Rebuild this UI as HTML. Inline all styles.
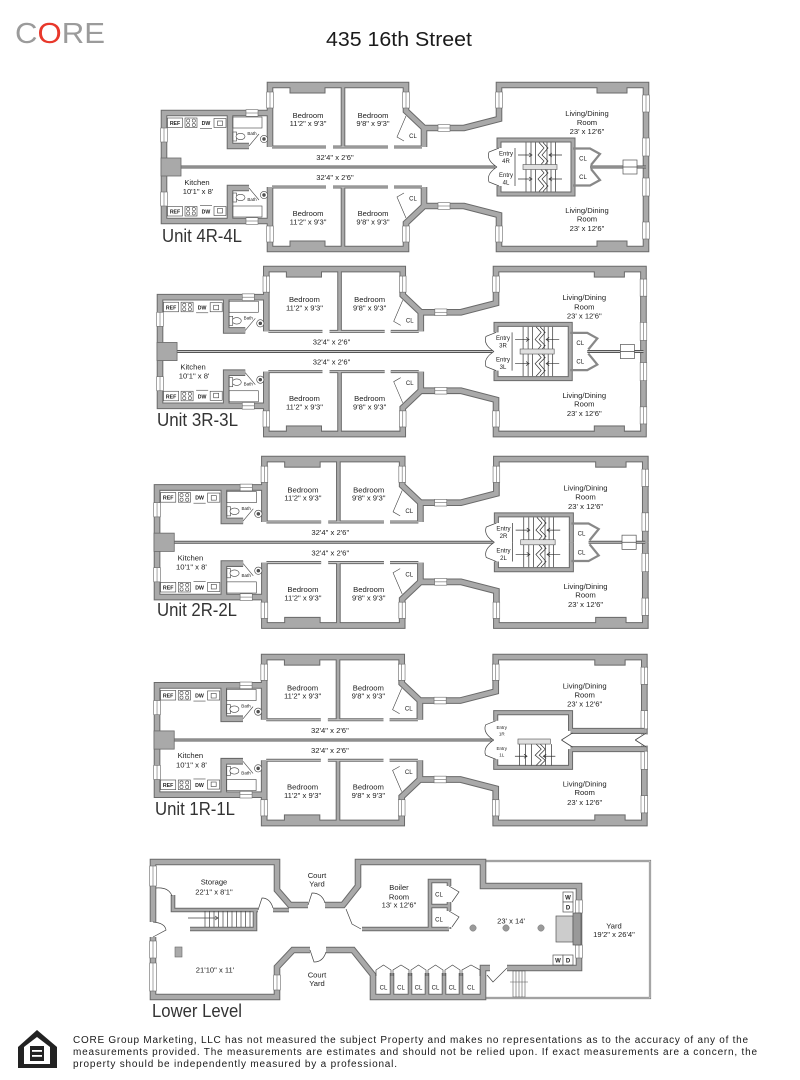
<!DOCTYPE html>
<html><head><meta charset="utf-8"><title>435 16th Street</title>
<style>
html,body{margin:0;padding:0;background:#fff;width:800px;height:1080px;overflow:hidden}
svg{display:block;font-family:"Liberation Sans",Arial,sans-serif}
.l{font-size:7.6px;text-anchor:middle;fill:#222}
.s{font-size:6px;text-anchor:middle;fill:#222}
.xs{font-size:5.2px;text-anchor:middle;font-weight:bold;fill:#222}
.b{font-size:4.5px;text-anchor:middle;fill:#222}
.u{font-size:18px;fill:#333}
</style></head><body>
<svg width="800" height="1080" viewBox="0 0 800 1080" xmlns="http://www.w3.org/2000/svg">
<defs>
 <g id="uW">
  <path d="M270,147L270,85L406,85L406,111L424,128L464,128L499,119L499,85L646,85L646,167"/>
  <path d="M164,167L164,113L270,113"/>
  <path d="M230,113L230,146L249,146"/>
  <path d="M424,128L424,147"/>
 </g>
 <g id="uM"><path d="M343,87L343,147"/></g>
 <g id="uT"><path d="M272,147L326,147M333,147L388,147M394,147L422,147"/></g>
 <g id="uB"><rect x="290" y="86" width="35" height="7"/><rect x="597" y="86" width="30" height="7"/></g>
 <g id="half">
  <use href="#uW" fill="none" stroke="#6a6a6a" stroke-width="6.6"/>
  <use href="#uM" fill="none" stroke="#6a6a6a" stroke-width="4.6"/>
  <use href="#uT" fill="none" stroke="#6a6a6a" stroke-width="3"/>
  <use href="#uB" fill="#a9a9a9" stroke="#6a6a6a" stroke-width="1"/>
  <use href="#uW" fill="none" stroke="#a9a9a9" stroke-width="4.6"/>
  <use href="#uM" fill="none" stroke="#a9a9a9" stroke-width="2.6"/>
  <use href="#uT" fill="none" stroke="#c8c8c8" stroke-width="1.1"/>
  <g fill="#fff" stroke="#6a6a6a" stroke-width="0.6">
   <rect x="160.7" y="128" width="6.6" height="14"/><path d="M164,128V142"/>
   <rect x="266.7" y="92" width="6.6" height="16"/><path d="M270,92V108"/>
   <rect x="402.7" y="92" width="6.6" height="16"/><path d="M406,92V108"/>
   <rect x="495.7" y="92" width="6.6" height="16"/><path d="M499,92V108"/>
   <rect x="642.7" y="95" width="6.6" height="17"/><path d="M646,95V112"/>
   <rect x="642.7" y="138" width="6.6" height="18"/><path d="M646,138V156"/>
   <rect x="246" y="109.7" width="12" height="6.6"/><path d="M246,113H258"/>
   <rect x="438" y="124.7" width="12" height="6.6"/><path d="M438,128H450"/>
  </g>
  <g fill="#fff" stroke="#444" stroke-width="0.6">
   <rect x="167.5" y="118" width="15" height="9.5"/>
   <rect x="185" y="118" width="12" height="9.5"/>
   <circle cx="188.2" cy="120.6" r="1.6"/><circle cx="193.8" cy="120.6" r="1.6"/>
   <circle cx="188.2" cy="125" r="1.6"/><circle cx="193.8" cy="125" r="1.6"/>
   <rect x="214" y="118.5" width="12" height="9"/><rect x="217.5" y="121" width="5" height="4.5"/>
   <path d="M200,128.5H212" fill="none"/>
   <rect x="233" y="117" width="29" height="11"/>
   <rect x="233" y="132" width="3.5" height="9"/><ellipse cx="240.5" cy="136.5" rx="4.5" ry="3.2"/>
   <circle cx="264" cy="139" r="3.6"/><circle cx="264" cy="139" r="1.4" fill="#555"/>
   <path d="M249,146L259,134" fill="none"/>
   <path d="M406,116L397,137L404,141" fill="none"/>
  </g>
 </g>
 <g id="sA">
  <path d="M499,148L499,140L573,140L573,167" fill="none" stroke="#6a6a6a" stroke-width="5"/>
  <path d="M499,148L499,140L573,140L573,167" fill="none" stroke="#a9a9a9" stroke-width="3"/>
  <path d="M499,148L489,152Q486,160 497,167" fill="#fff" stroke="#444" stroke-width="0.7"/>
  <path d="M515,148V167M526,142.5V167M531,142.5V167M535.5,142.5V167M547,142.5V167M551,142.5V167M555.5,142.5V167" stroke="#333" stroke-width="0.7"/>
  <path d="M539,142.5L544,148L538,155L544,161L539,167M543,142.5L548,148L542,155L548,161L543,167" fill="none" stroke="#333" stroke-width="0.7"/>
  <path d="M518,155H532M529,153L532,155L529,157M562,155H549M552,153L549,155L552,157" fill="none" stroke="#333" stroke-width="0.7"/>
  <path d="M573,148.5H590L600,154L591,165" fill="none" stroke="#888" stroke-width="2.2"/>
 </g>
 <g id="sB">
  <path d="M499,148L499,140L573,140L573,158" fill="none" stroke="#6a6a6a" stroke-width="5"/>
  <path d="M573,158H646" fill="none" stroke="#6a6a6a" stroke-width="6"/>
  <path d="M499,148L499,140L573,140L573,158" fill="none" stroke="#a9a9a9" stroke-width="3"/>
  <path d="M573,158H646" fill="none" stroke="#a9a9a9" stroke-width="4"/>
  <path d="M499,148L489,152Q486,160 497,167" fill="#fff" stroke="#444" stroke-width="0.7"/>
  <path d="M575,160L564,167M648,160L637,167" stroke="#444" stroke-width="0.8"/>
 </g>
 <g id="LW">
  <path d="M153,922V862H277V890L290,905H308"/>
  <path d="M325,905H343L358,886V862H483V886H579V968H507"/>
  <path d="M153,937V997H277V967L293,950H310"/>
  <path d="M326,950H353L373,975V997H483V968H490"/>
 </g>
 <g id="LM">
  <path d="M173,895V910H258"/>
  <path d="M273,910H289"/>
  <path d="M255,910V929H190"/>
  <path d="M362,929H449"/>
  <path d="M430,929V881H449V886"/>
  <path d="M430,906H449"/>
  <path d="M449,902V911M449,927V929"/>
  <path d="M392,973V997M410,973V997M427,973V997M444,973V997M461,973V997"/>
 </g>
</defs>

<!-- Header -->
<text x="15" y="43" font-size="29" textLength="90" lengthAdjust="spacingAndGlyphs" fill="#9b9b9b">C<tspan fill="#e8382b">O</tspan>RE</text>
<text x="326" y="46" font-size="20" textLength="146" lengthAdjust="spacingAndGlyphs" fill="#1a1a1a">435 16th Street</text>

<!-- UNIT 4 -->
<g>
 <use href="#half"/>
 <use href="#half" transform="translate(0,334) scale(1,-1)"/>
 <path d="M181,167H497M590,167H646" stroke="#555" stroke-width="3"/>
 <path d="M181,167H497M590,167H646" stroke="#c8c8c8" stroke-width="1"/>
 <rect x="161" y="158" width="20" height="18" fill="#a9a9a9" stroke="#6a6a6a" stroke-width="0.8"/>
 <use href="#sA"/><use href="#sA" transform="translate(0,334) scale(1,-1)"/>
 <rect x="623" y="160" width="14" height="14" fill="#fff" stroke="#555" stroke-width="0.7"/>
 <path d="M623,167H637" stroke="#555" stroke-width="0.8"/>
 <rect x="523" y="164.5" width="34" height="5" fill="#e0e0e0" stroke="#555" stroke-width="0.6"/>
 <text class="l" x="308" y="118">Bedroom</text><text class="l" x="308" y="126">11'2" x 9'3"</text>
 <text class="l" x="373" y="118">Bedroom</text><text class="l" x="373" y="126">9'8" x 9'3"</text>
 <text class="l" x="308" y="216">Bedroom</text><text class="l" x="308" y="224.5">11'2" x 9'3"</text>
 <text class="l" x="373" y="216">Bedroom</text><text class="l" x="373" y="224.5">9'8" x 9'3"</text>
 <text class="l" x="335" y="160">32'4" x 2'6"</text><text class="l" x="335" y="180">32'4" x 2'6"</text>
 <text class="l" x="197" y="185">Kitchen</text><text class="l" x="198" y="194">10'1" x 8'</text>
 <text class="s" x="413" y="138">CL</text><text class="s" x="413" y="200.5">CL</text>
 <text class="l" x="587" y="116">Living/Dining</text><text class="l" x="587" y="125">Room</text><text class="l" x="587" y="134">23' x 12'6"</text>
 <text class="l" x="587" y="213">Living/Dining</text><text class="l" x="587" y="221.5">Room</text><text class="l" x="587" y="231">23' x 12'6"</text>
 <text class="xs" x="175" y="125">REF</text><text class="xs" x="206" y="125">DW</text>
 <text class="xs" x="175" y="213.5">REF</text><text class="xs" x="206" y="213.5">DW</text>
 <text class="b" x="252" y="135">Bath</text><text class="b" x="252" y="201">Bath</text>
 <text class="s" x="506" y="155.5">Entry</text><text class="s" x="506" y="163">4R</text>
 <text class="s" x="506" y="177">Entry</text><text class="s" x="506" y="184.5">4L</text>
 <text class="s" x="583" y="160.5">CL</text><text class="s" x="583" y="179">CL</text>
</g>
<text class="u" x="162" y="242" textLength="80" lengthAdjust="spacingAndGlyphs">Unit 4R-4L</text>

<!-- UNIT 3 -->
<g transform="translate(157,266) scale(1.003,1.006) translate(-161,-82)">
 <use href="#half"/>
 <use href="#half" transform="translate(0,334) scale(1,-1)"/>
 <path d="M181,167H497M590,167H646" stroke="#555" stroke-width="3"/>
 <path d="M181,167H497M590,167H646" stroke="#c8c8c8" stroke-width="1"/>
 <rect x="161" y="158" width="20" height="18" fill="#a9a9a9" stroke="#6a6a6a" stroke-width="0.8"/>
 <use href="#sA"/><use href="#sA" transform="translate(0,334) scale(1,-1)"/>
 <rect x="623" y="160" width="14" height="14" fill="#fff" stroke="#555" stroke-width="0.7"/>
 <path d="M623,167H637" stroke="#555" stroke-width="0.8"/>
 <rect x="523" y="164.5" width="34" height="5" fill="#e0e0e0" stroke="#555" stroke-width="0.6"/>
 <text class="l" x="308" y="118">Bedroom</text><text class="l" x="308" y="126">11'2" x 9'3"</text>
 <text class="l" x="373" y="118">Bedroom</text><text class="l" x="373" y="126">9'8" x 9'3"</text>
 <text class="l" x="308" y="216">Bedroom</text><text class="l" x="308" y="224.5">11'2" x 9'3"</text>
 <text class="l" x="373" y="216">Bedroom</text><text class="l" x="373" y="224.5">9'8" x 9'3"</text>
 <text class="l" x="335" y="160">32'4" x 2'6"</text><text class="l" x="335" y="180">32'4" x 2'6"</text>
 <text class="l" x="197" y="185">Kitchen</text><text class="l" x="198" y="194">10'1" x 8'</text>
 <text class="s" x="413" y="138">CL</text><text class="s" x="413" y="200.5">CL</text>
 <text class="l" x="587" y="116">Living/Dining</text><text class="l" x="587" y="125">Room</text><text class="l" x="587" y="134">23' x 12'6"</text>
 <text class="l" x="587" y="213">Living/Dining</text><text class="l" x="587" y="221.5">Room</text><text class="l" x="587" y="231">23' x 12'6"</text>
 <text class="xs" x="175" y="125">REF</text><text class="xs" x="206" y="125">DW</text>
 <text class="xs" x="175" y="213.5">REF</text><text class="xs" x="206" y="213.5">DW</text>
 <text class="b" x="252" y="135">Bath</text><text class="b" x="252" y="201">Bath</text>
 <text class="s" x="506" y="155.5">Entry</text><text class="s" x="506" y="163">3R</text>
 <text class="s" x="506" y="177">Entry</text><text class="s" x="506" y="184.5">3L</text>
 <text class="s" x="583" y="160.5">CL</text><text class="s" x="583" y="179">CL</text>
</g>
<text class="u" x="157" y="426" textLength="81" lengthAdjust="spacingAndGlyphs">Unit 3R-3L</text>

<!-- UNIT 2 -->
<g transform="translate(154,456) scale(1.013,1.015) translate(-161,-82)">
 <use href="#half"/>
 <use href="#half" transform="translate(0,334) scale(1,-1)"/>
 <path d="M181,167H497M590,167H646" stroke="#555" stroke-width="3"/>
 <path d="M181,167H497M590,167H646" stroke="#c8c8c8" stroke-width="1"/>
 <rect x="161" y="158" width="20" height="18" fill="#a9a9a9" stroke="#6a6a6a" stroke-width="0.8"/>
 <use href="#sA"/><use href="#sA" transform="translate(0,334) scale(1,-1)"/>
 <rect x="623" y="160" width="14" height="14" fill="#fff" stroke="#555" stroke-width="0.7"/>
 <path d="M623,167H637" stroke="#555" stroke-width="0.8"/>
 <rect x="523" y="164.5" width="34" height="5" fill="#e0e0e0" stroke="#555" stroke-width="0.6"/>
 <text class="l" x="308" y="118">Bedroom</text><text class="l" x="308" y="126">11'2" x 9'3"</text>
 <text class="l" x="373" y="118">Bedroom</text><text class="l" x="373" y="126">9'8" x 9'3"</text>
 <text class="l" x="308" y="216">Bedroom</text><text class="l" x="308" y="224.5">11'2" x 9'3"</text>
 <text class="l" x="373" y="216">Bedroom</text><text class="l" x="373" y="224.5">9'8" x 9'3"</text>
 <text class="l" x="335" y="160">32'4" x 2'6"</text><text class="l" x="335" y="180">32'4" x 2'6"</text>
 <text class="l" x="197" y="185">Kitchen</text><text class="l" x="198" y="194">10'1" x 8'</text>
 <text class="s" x="413" y="138">CL</text><text class="s" x="413" y="200.5">CL</text>
 <text class="l" x="587" y="116">Living/Dining</text><text class="l" x="587" y="125">Room</text><text class="l" x="587" y="134">23' x 12'6"</text>
 <text class="l" x="587" y="213">Living/Dining</text><text class="l" x="587" y="221.5">Room</text><text class="l" x="587" y="231">23' x 12'6"</text>
 <text class="xs" x="175" y="125">REF</text><text class="xs" x="206" y="125">DW</text>
 <text class="xs" x="175" y="213.5">REF</text><text class="xs" x="206" y="213.5">DW</text>
 <text class="b" x="252" y="135">Bath</text><text class="b" x="252" y="201">Bath</text>
 <text class="s" x="506" y="155.5">Entry</text><text class="s" x="506" y="163">2R</text>
 <text class="s" x="506" y="177">Entry</text><text class="s" x="506" y="184.5">2L</text>
 <text class="s" x="583" y="160.5">CL</text><text class="s" x="583" y="179">CL</text>
</g>
<text class="u" x="157" y="616" textLength="80" lengthAdjust="spacingAndGlyphs">Unit 2R-2L</text>

<!-- UNIT 1 -->
<g transform="translate(154,654) scale(1.011,1.012) translate(-161,-82)">
 <use href="#half"/>
 <use href="#half" transform="translate(0,334) scale(1,-1)"/>
 <path d="M181,167H497" stroke="#555" stroke-width="3"/>
 <path d="M181,167H497" stroke="#c8c8c8" stroke-width="1"/>
 <rect x="161" y="158" width="20" height="18" fill="#a9a9a9" stroke="#6a6a6a" stroke-width="0.8"/>
 <rect x="641" y="161.5" width="10" height="11" fill="#fff"/>
 <use href="#sB"/><use href="#sB" transform="translate(0,334) scale(1,-1)"/>
 <path d="M522.5,171V192M528.4,171V192M534.3,171V192M548.2,171V192M554.2,171V192" stroke="#333" stroke-width="0.7"/>
 <path d="M539,171L544,176L538,182L544,187L539,192M543,171L548,176L542,182L548,187L543,192" fill="none" stroke="#333" stroke-width="0.7"/>
 <path d="M518,183H530M527,181L530,183L527,185M558,183H546M549,181L546,183L549,185" fill="none" stroke="#333" stroke-width="0.7"/>
 <rect x="521" y="166" width="32" height="5" fill="#e0e0e0" stroke="#555" stroke-width="0.6"/>
 <text class="l" x="308" y="118">Bedroom</text><text class="l" x="308" y="126">11'2" x 9'3"</text>
 <text class="l" x="373" y="118">Bedroom</text><text class="l" x="373" y="126">9'8" x 9'3"</text>
 <text class="l" x="308" y="216">Bedroom</text><text class="l" x="308" y="224.5">11'2" x 9'3"</text>
 <text class="l" x="373" y="216">Bedroom</text><text class="l" x="373" y="224.5">9'8" x 9'3"</text>
 <text class="l" x="335" y="160">32'4" x 2'6"</text><text class="l" x="335" y="180">32'4" x 2'6"</text>
 <text class="l" x="197" y="185">Kitchen</text><text class="l" x="198" y="194">10'1" x 8'</text>
 <text class="s" x="413" y="138">CL</text><text class="s" x="413" y="200.5">CL</text>
 <text class="l" x="587" y="116">Living/Dining</text><text class="l" x="587" y="125">Room</text><text class="l" x="587" y="134">23' x 12'6"</text>
 <text class="l" x="587" y="213">Living/Dining</text><text class="l" x="587" y="221.5">Room</text><text class="l" x="587" y="231">23' x 12'6"</text>
 <text class="xs" x="175" y="125">REF</text><text class="xs" x="206" y="125">DW</text>
 <text class="xs" x="175" y="213.5">REF</text><text class="xs" x="206" y="213.5">DW</text>
 <text class="b" x="252" y="135">Bath</text><text class="b" x="252" y="201">Bath</text>
 <text class="b" x="505" y="156">Entry</text><text class="b" x="505" y="162.5">1R</text>
 <text class="b" x="505" y="177">Entry</text><text class="b" x="505" y="183.5">1L</text>
</g>
<text class="u" x="155" y="815" textLength="80" lengthAdjust="spacingAndGlyphs">Unit 1R-1L</text>

<!-- LOWER LEVEL -->
<path d="M483,861H650V998H483" fill="none" stroke="#7a7a7a" stroke-width="2.2"/>
<path d="M483,861H650V998H483" fill="none" stroke="#e6e6e6" stroke-width="0.8"/>
<g fill="none">
 <use href="#LW" stroke="#6a6a6a" stroke-width="6.6"/>
 <use href="#LM" stroke="#6a6a6a" stroke-width="4.6"/>
 <use href="#LW" stroke="#a9a9a9" stroke-width="4.6"/>
 <use href="#LM" stroke="#a9a9a9" stroke-width="2.6"/>
</g>
<g fill="#fff" stroke="#6a6a6a" stroke-width="0.6">
 <rect x="149.7" y="866" width="6.6" height="20"/><path d="M153,866V886"/>
 <rect x="149.7" y="941" width="6.6" height="17"/><path d="M153,941V958"/>
 <rect x="149.7" y="963" width="6.6" height="28"/><path d="M153,963V991"/>
 <rect x="575.7" y="900" width="6.6" height="13"/><path d="M579,900V913"/>
 <rect x="575.7" y="945" width="6.6" height="13"/><path d="M579,945V958"/>
 <rect x="273.7" y="975" width="6.6" height="15"/><path d="M277,975V990"/>
</g>
<g fill="none" stroke="#444" stroke-width="0.7">
 <path d="M153,937L166,930Q165,923 153,922"/>
 <path d="M156,888Q169,887 172,896"/>
 <path d="M258,910L262,898Q270,898 273,908"/>
 <path d="M308,905L312,893Q322,893 325,903"/>
 <path d="M310,950L314,962Q323,962 326,952"/>
 <path d="M346,909L352,924L361,929"/>
 <path d="M449,886L459,892L452,902M449,911L459,917L452,927"/>
 <path d="M507,968L493,982L487,975"/>
 <path d="M376,976V970L383.5,965L391,970V976M393,976V970L401,965L409,970V976M411,976V970L418.5,965L426,970V976M428,976V970L435.5,965L443,970V976M445,976V970L452.5,965L460,970V976M462,976V970L471,965L480,970V976"/>
 <path d="M205,911V927M209.5,911V927M214,911V927M218.5,911V927M223,911V927M227.5,911V927M232,911V927M236.5,911V927M241,911V927M245.5,911V927M250,911V927"/>
 <path d="M188,918H218M215,916L218,918L215,920"/>
</g>
<rect x="513" y="971" width="12" height="26" fill="#fff" stroke="#555" stroke-width="0.6"/>
<path d="M516,971V997M519,971V997M522,971V997M510,982H528" stroke="#555" stroke-width="0.6"/>
<rect x="556" y="916" width="17" height="26" fill="#ccc" stroke="#555" stroke-width="0.7"/>
<rect x="573" y="913" width="8" height="32" fill="#999" stroke="#555" stroke-width="0.7"/>
<g fill="#fff" stroke="#555" stroke-width="0.7">
 <rect x="563" y="892" width="10" height="10"/><rect x="563" y="902" width="10" height="10"/>
 <rect x="553" y="955" width="10" height="10"/><rect x="563" y="955" width="10" height="10"/>
</g>
<g fill="#9a9a9a" stroke="#777" stroke-width="0.5">
 <circle cx="473" cy="928" r="3.2"/><circle cx="506" cy="928" r="3.2"/><circle cx="541" cy="928" r="3.2"/>
</g>
<rect x="175" y="947" width="7" height="10" fill="#aaa" stroke="#666" stroke-width="0.6"/>

<text class="xs" x="568" y="899.5" style="font-size:6px">W</text>
<text class="xs" x="568" y="909.5" style="font-size:6px">D</text>
<text class="xs" x="558" y="962.5" style="font-size:6px">W</text>
<text class="xs" x="568" y="962.5" style="font-size:6px">D</text>
<text class="l" x="214" y="884.5">Storage</text><text class="l" x="214" y="894.5">22'1" x 8'1"</text>
<text class="l" x="317" y="878">Court</text><text class="l" x="317" y="886.5">Yard</text>
<text class="l" x="399" y="890">Boiler</text><text class="l" x="399" y="899.4">Room</text><text class="l" x="399" y="907.7">13' x 12'6"</text>
<text class="l" x="511" y="923.7">23' x 14'</text>
<text class="l" x="614" y="928.5">Yard</text><text class="l" x="614" y="937">19'2" x 26'4"</text>
<text class="l" x="215" y="972.5">21'10" x 11'</text>
<text class="l" x="317" y="977.5">Court</text><text class="l" x="317" y="986">Yard</text>
<text class="s" x="439" y="896.5">CL</text><text class="s" x="439" y="921.5">CL</text>
<text class="s" x="383.5" y="989.5">CL</text><text class="s" x="401" y="989.5">CL</text>
<text class="s" x="418.5" y="989.5">CL</text><text class="s" x="435.5" y="989.5">CL</text>
<text class="s" x="452.5" y="989.5">CL</text><text class="s" x="471" y="989.5">CL</text>
<text class="u" x="152" y="1017" textLength="90" lengthAdjust="spacingAndGlyphs">Lower Level</text>

<!-- Footer -->
<path d="M37,1030L57,1047V1068H18V1047Z" fill="#222"/>
<path d="M37,1037L50,1047V1064H24V1047Z" fill="#fff"/>
<rect x="30" y="1046" width="14" height="15" fill="#222"/>
<rect x="32" y="1050" width="10" height="1.8" fill="#fff"/>
<rect x="32" y="1055" width="10" height="1.8" fill="#fff"/>
<g font-size="10" fill="#1a1a1a">
 <text x="73" y="1043" textLength="675">CORE Group Marketing, LLC has not measured the subject Property and makes no representations as to the accuracy of any of the</text>
 <text x="73" y="1055" textLength="684">measurements provided. The measurements are estimates and should not be relied upon. If exact measurements are a concern, the</text>
 <text x="73" y="1067" textLength="324">property should be independently measured by a professional.</text>
</g>
</svg>
</body></html>
